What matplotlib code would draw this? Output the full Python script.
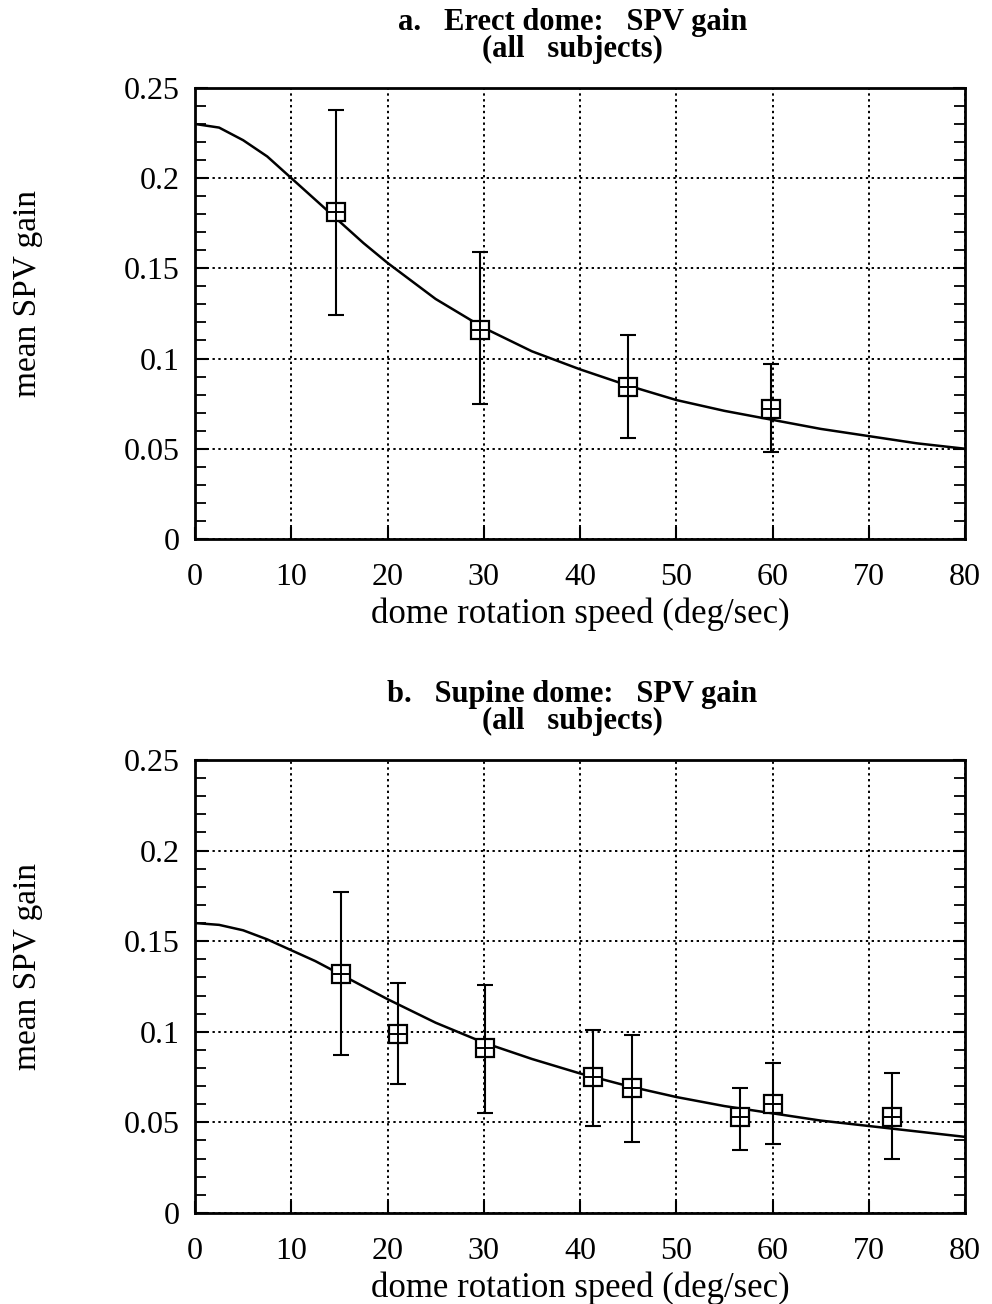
import matplotlib
matplotlib.use("Agg")
import matplotlib.pyplot as plt
from matplotlib.ticker import MultipleLocator, FuncFormatter

plt.rcParams['font.family'] = ['Liberation Serif', 'DejaVu Serif']

# panel a: erect dome
erect_speed = [14.6, 29.6, 45.0, 59.8]
erect_gain = [0.181, 0.116, 0.084, 0.072]
erect_hi = [0.238, 0.159, 0.113, 0.097]
erect_lo = [0.124, 0.075, 0.056, 0.048]

erect_fit_x = [0, 2.5, 5, 7.5, 10, 12.5, 15, 17.5, 20, 25, 30, 35, 40, 45, 50, 55, 60, 65, 70, 75, 80]
erect_fit_y = [0.230, 0.228, 0.221, 0.212, 0.200, 0.188, 0.176, 0.164, 0.153, 0.133, 0.117, 0.104,
               0.094, 0.085, 0.077, 0.071, 0.066, 0.061, 0.057, 0.053, 0.050]

# panel b: supine dome
supine_speed = [15.2, 21.1, 30.1, 41.4, 45.4, 56.6, 60.0, 72.4]
supine_gain = [0.132, 0.099, 0.091, 0.075, 0.069, 0.053, 0.060, 0.053]
supine_hi = [0.177, 0.127, 0.126, 0.101, 0.098, 0.069, 0.083, 0.077]
supine_lo = [0.087, 0.071, 0.055, 0.048, 0.039, 0.035, 0.038, 0.030]

supine_fit_x = [0, 2.5, 5, 7.5, 10, 12.5, 15, 17.5, 20, 25, 30, 35, 40, 45, 50, 55, 60, 65, 70, 75, 80]
supine_fit_y = [0.160, 0.159, 0.156, 0.151, 0.145, 0.139, 0.132, 0.125, 0.118, 0.105, 0.094, 0.085,
                0.077, 0.070, 0.064, 0.059, 0.055, 0.051, 0.048, 0.045, 0.042]

x_ticks = [0, 10, 20, 30, 40, 50, 60, 70, 80]
y_ticks = [0, 0.05, 0.1, 0.15, 0.2, 0.25]

panels = [
    ("a.   Erect dome:   SPV gain\n(all   subjects)", erect_speed, erect_gain, erect_lo, erect_hi,
     erect_fit_x, erect_fit_y),
    ("b.   Supine dome:   SPV gain\n(all   subjects)", supine_speed, supine_gain, supine_lo, supine_hi,
     supine_fit_x, supine_fit_y),
]

fig = plt.figure(figsize=(9.92, 13.04), dpi=100)
rects = [[0.1966, 0.5867, 0.7762, 0.3459], [0.1966, 0.0698, 0.7762, 0.3474]]

for rect, (title, sx, sy, lo, hi, fx, fy) in zip(rects, panels):
    ax = fig.add_axes(rect)
    ax.plot(fx, fy, color='black', lw=1.8, zorder=3)
    yerr = [[g - l for g, l in zip(sy, lo)], [h - g for g, h in zip(sy, hi)]]
    ax.errorbar(sx, sy, yerr=yerr, fmt='none', ecolor='black', elinewidth=1.5,
                capsize=6, capthick=1.5, zorder=4)
    ax.plot(sx, sy, ls='none', marker='s', ms=13, mfc='white', mec='black', mew=1.6, zorder=5)
    ax.plot(sx, sy, ls='none', marker='+', ms=13, mec='black', mew=1.4, zorder=6)

    ax.set_xlim(0, 80)
    ax.set_ylim(0, 0.25)
    ax.set_xticks(x_ticks)
    ax.set_yticks(y_ticks)
    ax.yaxis.set_major_formatter(FuncFormatter(lambda v, p: '%g' % round(v, 3)))
    ax.yaxis.set_minor_locator(MultipleLocator(0.01))
    ax.grid(True, which='major', color='black', ls=(0, (1.2, 1.8)), lw=1.4)
    ax.tick_params(axis='both', which='major', direction='in', length=9, width=1.5,
                   labelsize=23, right=True, top=False)
    ax.tick_params(axis='x', pad=17)
    ax.tick_params(axis='y', pad=11)
    ax.tick_params(axis='y', which='minor', direction='in', length=8, width=1.3, right=True)
    for s in ax.spines.values():
        s.set_linewidth(2)

    ax.set_title(title, fontsize=22, fontweight='bold', pad=22, linespacing=0.92, x=0.49)
    ax.set_xlabel("dome rotation speed (deg/sec)", fontsize=25, labelpad=4)
    ax.set_ylabel("mean SPV gain", fontsize=24)
    ax.yaxis.set_label_coords(-0.198, 0.545)

fig.savefig("out.png", dpi=100)
